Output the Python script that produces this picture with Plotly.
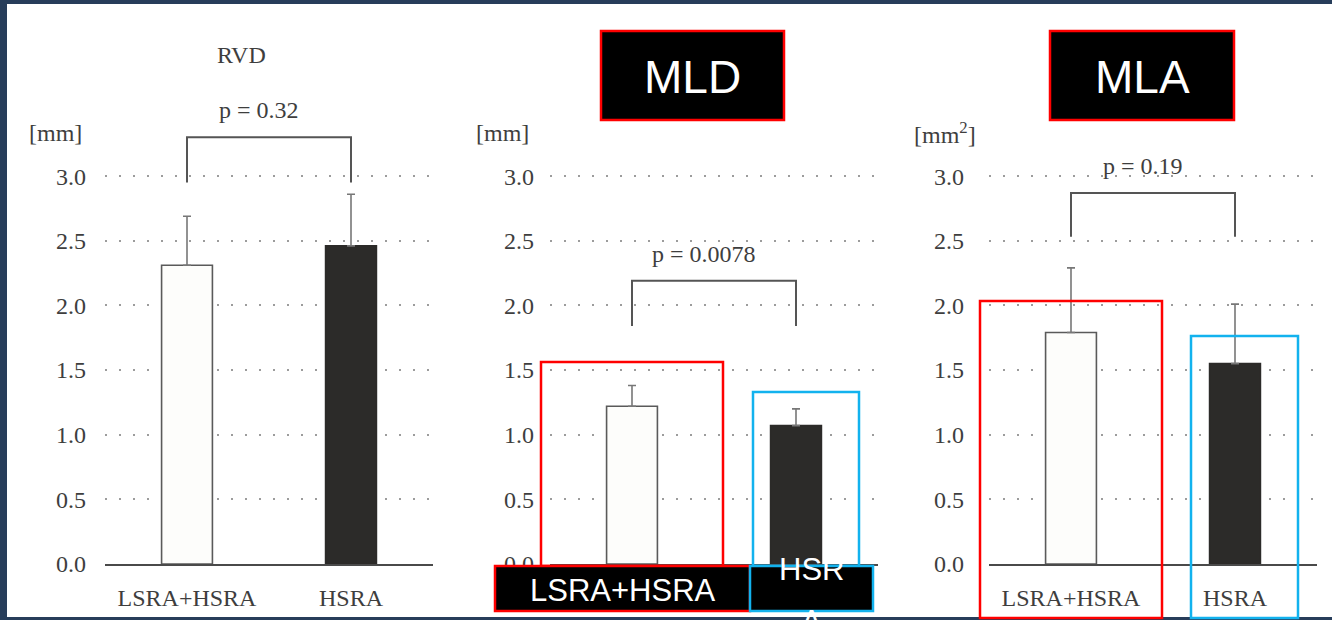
import plotly.graph_objects as go

# ---------------- data ----------------
categories = ["LSRA+HSRA", "HSRA"]
panel_titles = ["RVD", "MLD", "MLA"]
unit_labels = ["[mm]", "[mm]", "[mm<sup>2</sup>]"]

rvd_mean = [2.31, 2.46]
rvd_sd = [0.38, 0.40]
mld_mean = [1.22, 1.07]
mld_sd = [0.16, 0.13]
mla_mean = [1.79, 1.55]
mla_sd = [0.50, 0.46]

p_values = ["p = 0.32", "p = 0.0078", "p = 0.19"]
bracket_top = [3.30, 2.19, 2.87]
bracket_leg = [2.95, 1.84, 2.53]

y_tick_vals = [0.0, 0.5, 1.0, 1.5, 2.0, 2.5, 3.0]
y_tick_text = ["0.0", "0.5", "1.0", "1.5", "2.0", "2.5", "3.0"]

means = [rvd_mean, mld_mean, mla_mean]
sds = [rvd_sd, mld_sd, mla_sd]

# ---------------- layout helpers ----------------
W, H = 1332, 620


def px(x):
    return x / W


def py(y):
    return 1 - y / H


SERIF = "Liberation Serif, Times New Roman, serif"
SANS = "Liberation Sans, Arial, sans-serif"
TXT = "#3e3e3e"
FRAME = "#273d5a"
RED = "#ff0000"
CYAN = "#12b2ee"

x_domains_px = [(105, 433), (550, 878), (989, 1317)]
y_bottom_px, y_top_px = 564, 564 - 3.5 * 129.3
tick_standoff = [18, 15, 24]

fig = go.Figure()
layout = dict(
    width=W, height=H,
    margin=dict(l=0, r=0, t=0, b=0, pad=0, autoexpand=False),
    paper_bgcolor=FRAME, plot_bgcolor="white", showlegend=False,
    shapes=[], annotations=[],
)

for i in range(3):
    xa = "x" if i == 0 else f"x{i+1}"
    ya = "y" if i == 0 else f"y{i+1}"
    xkey = "xaxis" if i == 0 else f"xaxis{i+1}"
    ykey = "yaxis" if i == 0 else f"yaxis{i+1}"
    x0, x1 = x_domains_px[i]
    layout[xkey] = dict(
        domain=[px(x0), px(x1)], anchor=ya, range=[-0.5, 1.5],
        tickvals=[0, 1], ticktext=categories, ticks="",
        showticklabels=(i != 1), ticklabelstandoff=11, automargin=False,
        tickfont=dict(family=SERIF, size=24, color=TXT),
        showline=True, linecolor="#4a4a4a", linewidth=2,
        showgrid=False, zeroline=False, fixedrange=True,
    )
    layout[ykey] = dict(
        domain=[py(y_bottom_px), py(y_top_px)], anchor=xa, range=[0, 3.5],
        tickvals=y_tick_vals, ticktext=y_tick_text, ticks="",
        ticklabelstandoff=tick_standoff[i], automargin=False,
        tickfont=dict(family=SERIF, size=24, color=TXT),
        showline=False, showgrid=True, gridcolor="#9c9c9c", gridwidth=1.5,
        griddash="2px,12px", zeroline=False, fixedrange=True,
    )

    fig.add_trace(go.Bar(
        x=[0, 1], y=means[i], width=0.31, xaxis=xa, yaxis=ya,
        marker=dict(color=["#fdfdfb", "#2c2b29"],
                    line=dict(color=["#5a5a5a", "#2c2b29"], width=1.6)),
        error_y=dict(type="data", symmetric=False, array=sds[i],
                     arrayminus=[0, 0], color="#777777", thickness=1.6, width=4),
        hoverinfo="skip",
    ))
    fig.add_trace(go.Scatter(
        x=[0, 0, 1, 1],
        y=[bracket_leg[i], bracket_top[i], bracket_top[i], bracket_leg[i]],
        xaxis=xa, yaxis=ya, mode="lines",
        line=dict(color="#555555", width=2), hoverinfo="skip",
    ))
    layout["annotations"].append(dict(
        x=0.5, y=bracket_top[i], xref=xa, yref=ya, text=p_values[i],
        showarrow=False, xanchor="center", yanchor="bottom",
        xshift=-10, yshift=12,
        font=dict(family=SERIF, size=24, color=TXT),
    ))

# white page over dark frame
layout["shapes"].append(dict(
    type="rect", xref="paper", yref="paper", layer="below",
    x0=px(7), x1=px(W), y0=py(617), y1=py(4),
    fillcolor="white", line=dict(width=0),
))

# unit labels
for xr, txt in zip([84, 531, 978], unit_labels):
    layout["annotations"].append(dict(
        x=px(xr), y=py(133), xref="paper", yref="paper", text=txt,
        showarrow=False, xanchor="right", yanchor="middle",
        font=dict(family=SERIF, size=24, color=TXT),
    ))

# RVD title
layout["annotations"].append(dict(
    x=px(241), y=py(55), xref="paper", yref="paper", text=panel_titles[0],
    showarrow=False, xanchor="center", yanchor="middle",
    font=dict(family=SERIF, size=24, color=TXT),
))

# black title boxes for MLD / MLA
for (bx0, bx1), txt in zip([(601, 784), (1050, 1234)], panel_titles[1:]):
    layout["shapes"].append(dict(
        type="rect", xref="paper", yref="paper", layer="above",
        x0=px(bx0), x1=px(bx1), y0=py(120), y1=py(31),
        fillcolor="black", line=dict(color=RED, width=2.5),
    ))
    layout["annotations"].append(dict(
        x=px((bx0 + bx1) / 2), y=py(77), xref="paper", yref="paper", text=txt,
        showarrow=False, xanchor="center", yanchor="middle",
        font=dict(family=SANS, size=46, color="white"),
    ))

# highlight rectangles
highlight = [
    (541, 723, 362, 566, RED), (753, 859, 392, 566, CYAN),
    (980, 1162, 301, 618, RED), (1191, 1298, 336, 618, CYAN),
]
for x0, x1, y0, y1, c in highlight:
    layout["shapes"].append(dict(
        type="rect", xref="paper", yref="paper", layer="above",
        x0=px(x0), x1=px(x1), y0=py(y1), y1=py(y0),
        fillcolor="rgba(0,0,0,0)", line=dict(color=c, width=2.5),
    ))

# black label boxes under middle panel
for x0, x1, c in [(495, 750, RED), (750, 873, CYAN)]:
    layout["shapes"].append(dict(
        type="rect", xref="paper", yref="paper", layer="above",
        x0=px(x0), x1=px(x1), y0=py(611), y1=py(566),
        fillcolor="black", line=dict(color=c, width=2.5),
    ))
layout["annotations"].append(dict(
    x=px(623), y=py(590), xref="paper", yref="paper", text=categories[0],
    showarrow=False, xanchor="center", yanchor="middle",
    font=dict(family=SANS, size=31, color="white"),
))
layout["annotations"].append(dict(
    x=px(811), y=py(569), xref="paper", yref="paper", text="HSR",
    showarrow=False, xanchor="center", yanchor="middle",
    font=dict(family=SANS, size=31, color="white"),
))
layout["annotations"].append(dict(
    x=px(811), y=py(621), xref="paper", yref="paper", text="A",
    showarrow=False, xanchor="center", yanchor="middle",
    font=dict(family=SANS, size=31, color="white"),
))

fig.update_layout(**layout)
fig.write_html("out.html")
